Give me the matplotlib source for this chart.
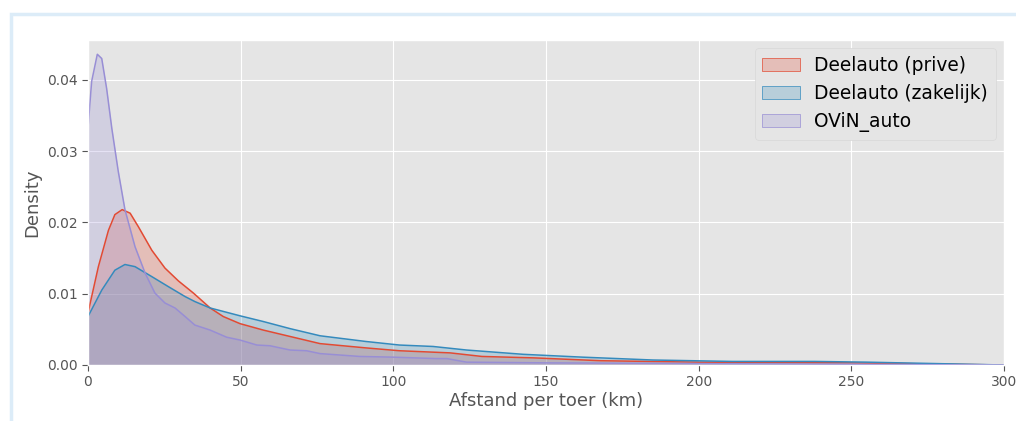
import numpy as np
import matplotlib
matplotlib.use("Agg")
import matplotlib.pyplot as plt
from matplotlib.patches import Patch, Rectangle

plt.style.use("ggplot")

# density curves (km, density)
prive_x = [0, 3.4, 6.7, 8.8, 11.2, 13.8, 16.5, 20.9, 25.2, 29.6, 34.5, 40, 44.3, 49.8, 57.4, 66.2, 76, 91, 102, 118.6, 129, 146, 168, 200, 250, 300]
prive_y = [0.0073, 0.0138, 0.0189, 0.0211, 0.0218, 0.0213, 0.0194, 0.0161, 0.0136, 0.0118, 0.0101, 0.0080, 0.0068, 0.0058, 0.0049, 0.0040, 0.0030, 0.0024, 0.0020, 0.0017, 0.0012, 0.0010, 0.0006, 0.0004, 0.0003, 0.0]

zakelijk_x = [0, 4.5, 8.8, 12.1, 15.4, 20.9, 26.3, 31.8, 35, 40, 49.8, 57.4, 66.2, 76, 91, 102, 113, 124, 142.5, 162, 185, 211, 238, 255, 300]
zakelijk_y = [0.0068, 0.0105, 0.0133, 0.0141, 0.0138, 0.0124, 0.0110, 0.0096, 0.0089, 0.0080, 0.0069, 0.0061, 0.0051, 0.0041, 0.0033, 0.0028, 0.0026, 0.0021, 0.0015, 0.0011, 0.0007, 0.0005, 0.0005, 0.0004, 0.0]

ovin_x = [0, 1.2, 3.05, 4.5, 6.1, 7.8, 9.9, 12.1, 15.4, 18.7, 21.9, 25.2, 28.5, 31.8, 35, 40, 45.4, 49.8, 55.3, 59.6, 66.2, 71.6, 76, 89, 100, 114, 117.5, 124, 150, 200, 250, 300]
ovin_y = [0.0333, 0.0398, 0.0436, 0.0430, 0.0388, 0.0332, 0.0272, 0.0218, 0.0166, 0.0129, 0.0101, 0.0087, 0.0080, 0.0068, 0.0056, 0.0049, 0.0039, 0.0035, 0.0028, 0.0027, 0.0021, 0.0020, 0.0016, 0.0012, 0.0011, 0.0009, 0.0009, 0.0004, 0.0003, 0.0002, 0.0001, 0.0]

labels = ["Deelauto (prive)", "Deelauto (zakelijk)", "OViN_auto"]
colors = ["#E24A33", "#348ABD", "#988ED5"]

fig = plt.figure(figsize=(10.16, 4.21), dpi=100)
fig.patch.set_facecolor("white")
ax = fig.add_axes([88/1016, 1-365/421, 916/1016, 325/421])

series = [(prive_x, prive_y), (zakelijk_x, zakelijk_y), (ovin_x, ovin_y)]
for (xs, ys), c in zip(series, colors):
    ax.fill_between(xs, ys, color=c, alpha=0.25, linewidth=0)
    ax.plot(xs, ys, color=c, linewidth=1.1)

ax.set_xlim(0, 300)
ax.set_ylim(0, 0.0456)
ax.set_yticks([0, 0.01, 0.02, 0.03, 0.04])
ax.set_yticklabels(["0.00", "0.01", "0.02", "0.03", "0.04"])
ax.tick_params(labelsize=10, colors="#555555", length=4)
ax.set_xlabel("Afstand per toer (km)", fontsize=13, color="#555555", labelpad=2)
ax.set_ylabel("Density", fontsize=13, color="#555555")

handles = [Patch(facecolor=matplotlib.colors.to_rgba(c, 0.25), edgecolor=c, label=l)
           for c, l in zip(colors, labels)]
ax.legend(handles=handles, fontsize=13.4, loc="upper right", facecolor="#E5E5E5",
          edgecolor="#d8d8d8", framealpha=1, borderaxespad=0.45)

# light notebook-style frame around the output
fig.patches.append(Rectangle((11/1016, -0.1), 1.1, 1-13.5/421+0.1, transform=fig.transFigure,
                             fill=False, edgecolor="#dcecf8", linewidth=2.5, zorder=-1))

fig.savefig("out.png", dpi=100)
